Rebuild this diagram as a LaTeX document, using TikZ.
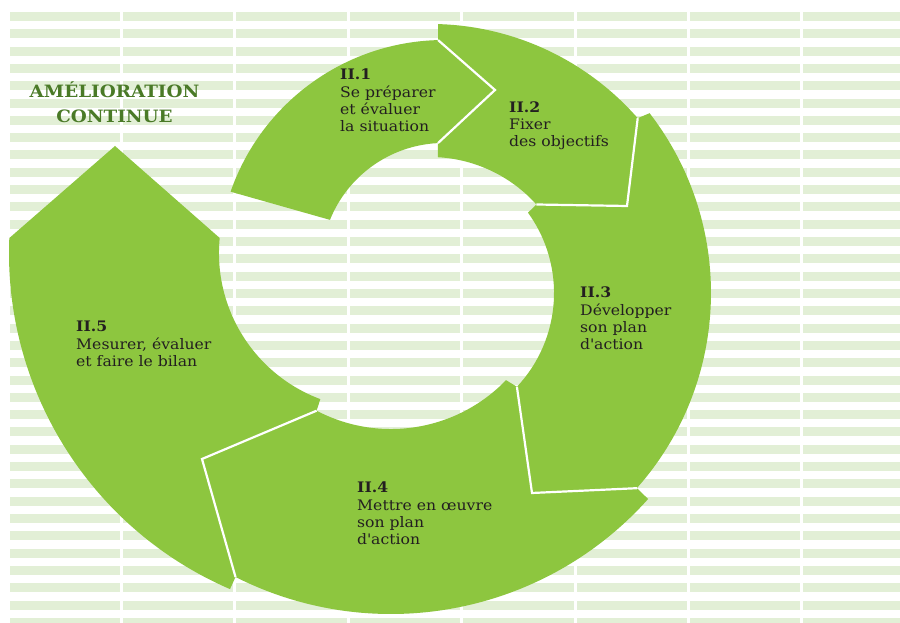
\documentclass[tikz,border=0pt]{standalone}
\usepackage{fontspec}
\setmainfont{DejaVu Serif}[FakeStretch=1.08]

\definecolor{stripe}{HTML}{E2EFD6}
\definecolor{leaf}{HTML}{8DC63F}
\definecolor{deepleaf}{HTML}{4A7A27}
\definecolor{ink}{HTML}{231F20}

\tikzset{
	segment/.style={fill=leaf},
	seam/.style={draw=white, line width=2.2pt},
	steptext/.style={align=left, anchor=base west, inner sep=0pt, text=ink,
		font=\fontsize{14.5}{17.4}\selectfont},
}

\begin{document}
\begin{tikzpicture}[x=1pt, y=1pt]
    \useasboundingbox (0,0) rectangle (900,623);
    \fill[white] (0,0) rectangle (900,623);
    
    % Background stripes
    \begin{scope}
    	\clip (0,0) rectangle (900,623);
    	\foreach \r in {0,...,35}
    	{
    		\foreach \c in {0,...,7}
    		{
    			\fill[stripe] (9.5+113.4*\c, 611-17.31*\r) rectangle ++(110.5,-9);
    		}
    	}
    \end{scope}
    
    % Chevron points shared by two segments
    \coordinate (Tip1-out) at (438.1,582.9);
    \coordinate (Tip1)     at (495,533);
    \coordinate (Tip1-in)  at (438,479.9);
    \coordinate (Tip2-out) at (637.7,504.8);
    \coordinate (Tip2)     at (627,417);
    \coordinate (Tip2-in)  at (536.4,418.5);
    \coordinate (Tip3-out) at (636.9,134.8);
    \coordinate (Tip3)     at (532,130);
    \coordinate (Tip3-in)  at (516.9,236.2);
    \coordinate (Tip4-out) at (235.5,46.0);
    \coordinate (Tip4)     at (202,164);
    \coordinate (Tip4-in)  at (316.6,212.3);
    
    % Segment II.1
    \fill[segment] (230.6,431.3) arc[start angle=160.8, end angle=91.5, radius=226]
    	-- (Tip1) -- (Tip1-in) arc[start angle=92.8, end angle=158, radius=123] -- cycle;
    
    % Segment II.2
    \fill[segment] (438.2,598.9) arc[start angle=88.3, end angle=41.2, radius=276]
    	-- (Tip2) -- (Tip2-in) arc[start angle=41.9, end angle=86.8, radius=143]
    	-- (Tip1-in) -- (Tip1) -- (Tip1-out) -- cycle;
    
    % Segment II.3
    \fill[segment] (649.6,509.8) arc[start angle=37.7, end angle=-41.6, radius=294]
    	-- (Tip3) -- (Tip3-in) arc[start angle=-43.2, end angle=35.9, radius=137]
    	-- (Tip2-in) -- (Tip2) -- (Tip2-out) -- cycle;
    
    % Segment II.4
    \fill[segment] (648.1,124.0) arc[start angle=-41.81, end angle=-116.79, radius=345]
    	-- (Tip4) -- (Tip4-in) arc[start angle=-117.69, end angle=-43.99, radius=160]
    	-- (Tip3-in) -- (Tip3) -- (Tip3-out) -- cycle;
    
    % Segment II.5
    \fill[segment] (230.0,33.9) arc[start angle=246.66, end angle=177.65, radius=366]
    	-- (115,477) -- (219.7,385.0) arc[start angle=174.47, end angle=249.49, radius=156]
    	-- (Tip4-in) -- (Tip4) -- (Tip4-out) -- cycle;
    
    % White seams between segments
    \foreach \i in {1,...,4}
    {
    	\draw[seam] (Tip\i-out) -- (Tip\i) -- (Tip\i-in);
    }
    
    % Title
    \node[align=center, anchor=base, inner sep=0pt, text=deepleaf,
    	font=\bfseries\fontsize{17}{25}\selectfont] (Title) at (114.5,500)
    	{AMÉLIORATION\\CONTINUE};
    
    % Step labels
    \node[steptext] (Step-1) at (340,491)   {\textbf{II.1}\\Se préparer\\et évaluer\\la situation};
    \node[steptext] (Step-2) at (509,476)   {\textbf{II.2}\\Fixer\\des objectifs};
    \node[steptext] (Step-3) at (580,273)   {\textbf{II.3}\\Développer\\son plan\\d\textquotesingle action};
    \node[steptext] (Step-4) at (357,78)    {\textbf{II.4}\\Mettre en œuvre\\son plan\\d\textquotesingle action};
    \node[steptext] (Step-5) at (76,256.3)  {\textbf{II.5}\\Mesurer, évaluer\\et faire le bilan};
    
\end{tikzpicture}
\end{document}
